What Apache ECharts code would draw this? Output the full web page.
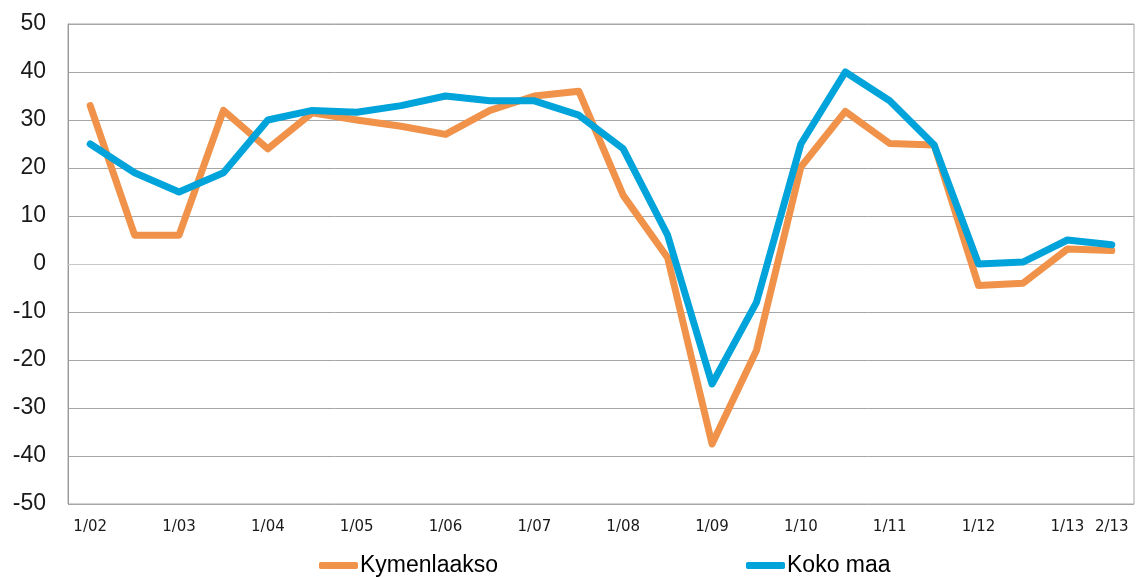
<!DOCTYPE html>
<html>
<head>
<meta charset="utf-8">
<script src="https://cdn.jsdelivr.net/npm/echarts@6/dist/echarts.min.js"></script>
<style>
html,body{margin:0;padding:0;background:#fff;}
#main{width:1141px;height:578px;}
</style>
</head>
<body>
<div id="main"></div>
<script>
var categories = ['1/02','7/02','1/03','7/03','1/04','7/04','1/05','7/05','1/06','7/06','1/07','7/07',
  '1/08','7/08','1/09','7/09','1/10','7/10','1/11','7/11','1/12','7/12','1/13','2/13'];
var shownLabels = ['1/02','1/03','1/04','1/05','1/06','1/07','1/08','1/09','1/10','1/11','1/12','1/13','2/13'];
var kymenlaakso = [33, 6, 6, 32, 24, 31.5, 30, 28.7, 27, 32, 35, 36, 14.3, 1.3, -37.5, -18, 20.2, 31.8, 25.1, 24.8, -4.5, -4, 3.1, 2.8];
var kokoMaa = [25, 19, 15, 19, 30, 32, 31.6, 33, 35, 34, 34, 31, 24, 6, -25, -8, 25, 40, 34, 24.8, 0, 0.4, 5, 4];
var yTicks = {min: -50, max: 50, interval: 10};

var chart = echarts.init(document.getElementById('main'));
var legendText = {fontFamily: 'Liberation Sans', fontSize: 23, color: '#000', padding: [0,0,0,-3]};
chart.setOption({
  animation: false,
  backgroundColor: '#fff',
  grid: {left: 68, right: 7, top: 24, bottom: 74, show: true, borderColor: '#a6a6a6', borderWidth: 1},
  legend: [
    {data: [{name: 'Kymenlaakso', icon: 'roundRect'}], left: 314, top: 549, itemWidth: 39, itemHeight: 7,
     textStyle: legendText},
    {data: [{name: 'Koko maa', icon: 'roundRect'}], left: 741, top: 549, itemWidth: 39, itemHeight: 7,
     textStyle: legendText}
  ],
  xAxis: {
    type: 'category', data: categories, boundaryGap: true,
    axisLine: {show: true, lineStyle: {color: '#c8c8c8'}},
    axisTick: {show: false},
    axisLabel: {
      interval: function (i, v) { return shownLabels.indexOf(v) >= 0; },
      fontFamily: 'DejaVu Sans', fontSize: 15, color: '#1a1a1a', margin: 16
    },
    splitLine: {show: false}
  },
  yAxis: {
    type: 'value', min: yTicks.min, max: yTicks.max, interval: yTicks.interval,
    axisLine: {show: true, lineStyle: {color: '#999'}},
    axisTick: {show: false},
    axisLabel: {fontFamily: 'Liberation Sans', fontSize: 23, color: '#1a1a1a', margin: 22},
    splitLine: {lineStyle: {color: '#a6a6a6', width: 1}}
  },
  series: [
    {name: 'Kymenlaakso', type: 'line', data: kymenlaakso, symbol: 'none',
     lineStyle: {color: '#F0924A', width: 7, join: 'round', cap: 'round'}, itemStyle: {color: '#F0924A'}},
    {name: 'Koko maa', type: 'line', data: kokoMaa, symbol: 'none',
     lineStyle: {color: '#00A3DA', width: 7, join: 'round', cap: 'round'}, itemStyle: {color: '#00A3DA'}}
  ]
});
</script>
</body>
</html>
